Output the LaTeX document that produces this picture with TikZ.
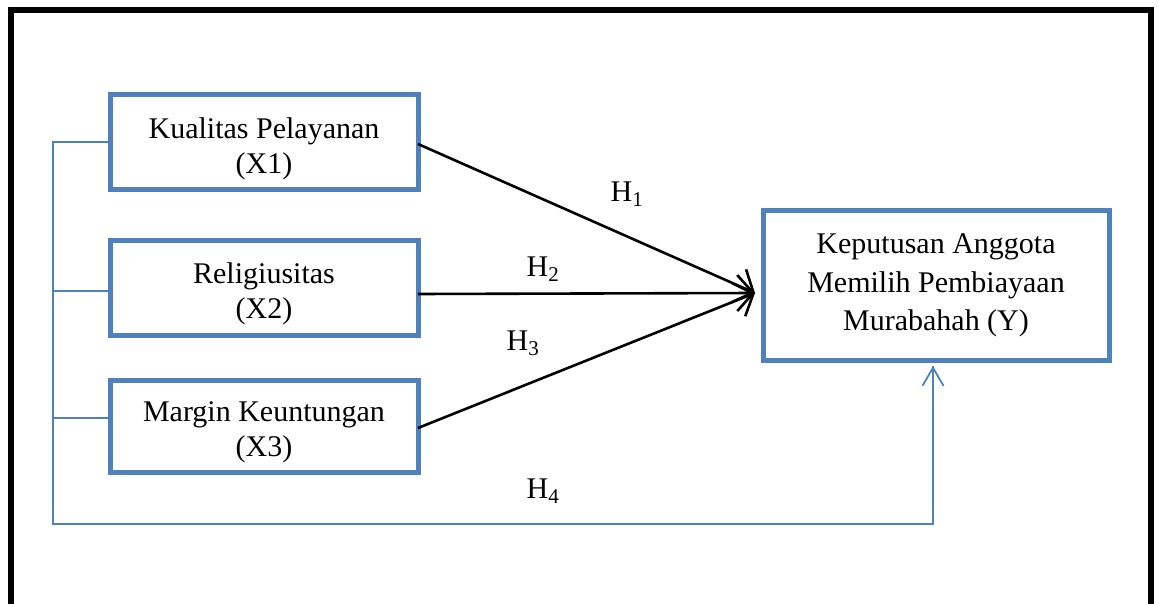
\documentclass[tikz,border=0pt]{standalone}
\usepackage{fontspec}
\setmainfont{Liberation Serif}
\usetikzlibrary{arrows.meta,calc}
\definecolor{wblue}{HTML}{4F81BD}
\newcommand{\topstrut}{\rule{0pt}{33pt}}
\begin{document}
\begin{tikzpicture}[x=1pt,y=-1pt,
  box/.style={draw=wblue,line width=5pt,inner sep=0pt,outer sep=0pt,align=center,
    font=\fontsize{30}{35}\selectfont},
  hyp/.style={draw=black,line width=2.6pt,-{Straight Barb[length=16pt,width=36pt,line width=2.6pt]}},
  blueline/.style={draw=wblue,line width=1.8pt},
  lbl/.style={font=\fontsize{30}{34}\selectfont,inner sep=0pt}]
\useasboundingbox (0,0) rectangle (1159,604);
\draw[line width=5.5pt] (11,620) -- (11,10) -- (1151,10) -- (1151,620);
\node[box,minimum width=308pt,minimum height=95pt] (b1) at (264,142.5) {\topstrut Kualitas Pelayanan\\(X1)};
\node[box,minimum width=308pt,minimum height=95pt] (b2) at (264,287.5) {\topstrut Religiusitas\\(X2)};
\node[box,minimum width=308pt,minimum height=92pt] (b3) at (264,426) {\topstrut Margin Keuntungan\\(X3)};
\node[box,minimum width=346pt,minimum height=149pt,font=\fontsize{30}{38.5}\selectfont] (y) at (936,285.5) {Keputusan Anggota\\Memilih Pembiayaan\\Murabahah (Y)};
\coordinate (tip) at (755,293);
\coordinate (lt) at (53,142);
\coordinate (lb) at (53,524);
\coordinate (rb) at (933,524);
\coordinate (yt) at (933,366);
\draw[hyp] ([yshift=-1.5pt]b1.east) -- (tip);
\draw[hyp] ([yshift=-6.5pt]b2.east) -- (tip);
\draw[hyp] ([yshift=-2pt]b3.east) -- (tip);
\draw[blueline] (b1.west |- lt) -- (lt) -- (lb) -- (rb) -- (yt);
\draw[blueline,-{Straight Barb[length=18pt,width=21pt,line width=1.8pt]}] (rb) -- (yt);
\draw[blueline] (53,291) -- (b2.west |- 0,291);
\draw[blueline] (53,418) -- (b3.west |- 0,418);
\node[lbl] (h1) at (627,194) {H\textsubscript{1}};
\node[lbl] (h2) at (543,269) {H\textsubscript{2}};
\node[lbl] (h3) at (523,343) {H\textsubscript{3}};
\node[lbl] (h4) at (543,491) {H\textsubscript{4}};
\end{tikzpicture}
\end{document}
